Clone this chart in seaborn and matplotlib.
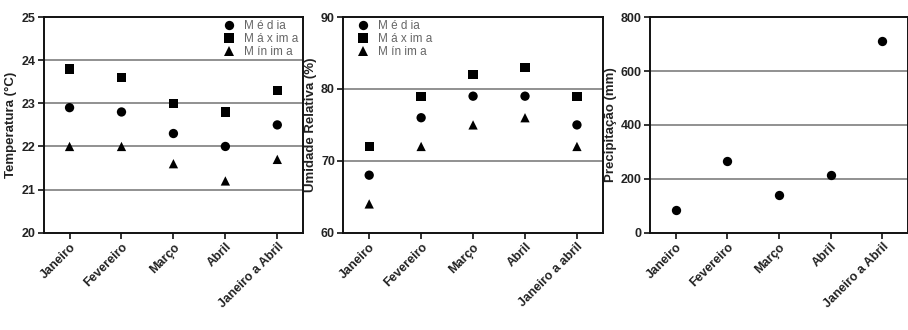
import matplotlib.pyplot as plt
import seaborn as sns
import pandas as pd

meses = ['Janeiro', 'Fevereiro', 'Março', 'Abril', 'Janeiro a Abril']
meses_ur = ['Janeiro', 'Fevereiro', 'Março', 'Abril', 'Janeiro a abril']

temp_media = [22.9, 22.8, 22.3, 22.0, 22.5]
temp_maxima = [23.8, 23.6, 23.0, 22.8, 23.3]
temp_minima = [22.0, 22.0, 21.6, 21.2, 21.7]

ur_media = [68, 76, 79, 79, 75]
ur_maxima = [72, 79, 82, 83, 79]
ur_minima = [64, 72, 75, 76, 72]

precip = [84, 267, 139, 215, 712]

series = ['Média', 'Máxima', 'Mínima']
marcas = {'Média': 'o', 'Máxima': 's', 'Mínima': '^'}

sns.set_theme(style='ticks')
plt.rcParams['font.family'] = ['Liberation Sans', 'DejaVu Sans']


def tabela(cats, media, maxima, minima):
    df = pd.DataFrame({'mes': cats, 'Média': media, 'Máxima': maxima, 'Mínima': minima})
    return df.melt(id_vars='mes', var_name='tipo', value_name='valor')


def estilo(ax, ylim, yticks, ylabel):
    ax.set_xlim(-0.5, 4.5)
    ax.set_ylim(*ylim)
    ax.set_yticks(yticks)
    ax.set_xlabel('')
    ax.set_ylabel(ylabel, fontsize=9.5, fontweight='bold', color='#222', labelpad=3)
    for y in yticks[1:-1]:
        ax.axhline(y, color='#888', lw=1.3, zorder=0)
    for s in ax.spines.values():
        s.set_visible(True)
        s.set_color('#111')
        s.set_linewidth(1.4)
    ax.tick_params(axis='both', length=4, width=1.2, color='#111', labelsize=9, labelcolor='#222', pad=2)
    for lab in ax.get_yticklabels():
        lab.set_fontweight('bold')
    for lab in ax.get_xticklabels():
        lab.set_fontweight('bold')
        lab.set_rotation(45)
        lab.set_ha('right')
        lab.set_rotation_mode('anchor')


def legenda(ax, anchor):
    h, l = ax.get_legend_handles_labels()
    leg = ax.legend(h, ['M é d ia', 'M á x im a', 'M ín im a'], loc='upper left', bbox_to_anchor=anchor,
                    frameon=False, fontsize=8.5, handletextpad=0.7, labelspacing=0.1,
                    handlelength=1.2, markerscale=1.0, borderaxespad=0.2)
    for t in leg.get_texts():
        t.set_color('#666')


fig = plt.figure(figsize=(9.08, 3.3), dpi=100)
ax1 = fig.add_axes([0.048, 0.295, 0.286, 0.653])
ax2 = fig.add_axes([0.378, 0.295, 0.286, 0.653])
ax3 = fig.add_axes([0.716, 0.295, 0.284, 0.653])

sns.scatterplot(data=tabela(meses, temp_media, temp_maxima, temp_minima), x='mes', y='valor',
                style='tipo', style_order=series, markers=marcas, color='black', s=45,
                edgecolor='black', linewidth=0, ax=ax1)
estilo(ax1, (20, 25), [20, 21, 22, 23, 24, 25], 'Temperatura (°C)')
legenda(ax1, (0.66, 1.02))

sns.scatterplot(data=tabela(meses_ur, ur_media, ur_maxima, ur_minima), x='mes', y='valor',
                style='tipo', style_order=series, markers=marcas, color='black', s=45,
                edgecolor='black', linewidth=0, ax=ax2)
estilo(ax2, (60, 90), [60, 70, 80, 90], 'Umidade Relativa (%)')
legenda(ax2, (0.02, 1.02))

sns.scatterplot(x=meses, y=precip, marker='o', color='black', s=45, linewidth=0, ax=ax3)
estilo(ax3, (0, 800), [0, 200, 400, 600, 800], 'Precipitação (mm)')

fig.savefig('out.png', dpi=100)
